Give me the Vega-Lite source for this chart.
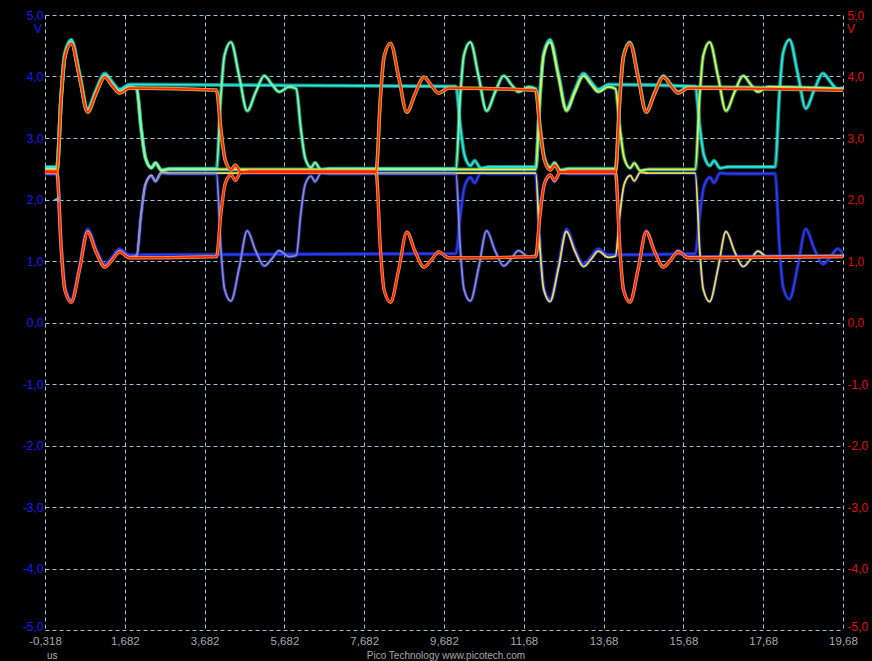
{
"$schema": "https://vega.github.io/schema/vega-lite/v6.json",
"width": 798,
"height": 615,
"autosize": {"type": "none"},
"padding": {"left": 45, "top": 15, "right": 29, "bottom": 31},
"background": "#000000",
"config": {
  "view": {"fill": "#000000", "stroke": null},
  "font": "Liberation Sans",
  "axis": {"domain": false, "ticks": false, "gridColor": "#a9cde0", "gridDash": [4, 3], "gridWidth": 1, "gridOpacity": 0.95, "labelFont": "Liberation Sans", "labelFontSize": 12}
},
"datasets": {
"w": [
{"s":"AH","x":-0.318,"y":2.46},{"s":"AH","x":-0.02,"y":2.46},{"s":"AH","x":0.09,"y":3.67},{"s":"AH","x":0.18,"y":4.32},{"s":"AH","x":0.34,"y":4.54},{"s":"AH","x":0.55,"y":3.98},{"s":"AH","x":0.75,"y":3.42},{"s":"AH","x":0.96,"y":3.72},{"s":"AH","x":1.18,"y":3.99},{"s":"AH","x":1.37,"y":3.85},{"s":"AH","x":1.55,"y":3.73},{"s":"AH","x":1.8,"y":3.81},
{"s":"AH","x":3.98,"y":3.78},{"s":"AH","x":4.09,"y":3.13},{"s":"AH","x":4.2,"y":2.64},{"s":"AH","x":4.35,"y":2.48},{"s":"AH","x":4.45,"y":2.56},{"s":"AH","x":4.6,"y":2.44},{"s":"AH","x":4.8,"y":2.46},
{"s":"AH","x":7.98,"y":2.46},{"s":"AH","x":8.09,"y":3.67},{"s":"AH","x":8.18,"y":4.32},{"s":"AH","x":8.34,"y":4.54},{"s":"AH","x":8.55,"y":3.98},{"s":"AH","x":8.75,"y":3.42},{"s":"AH","x":8.96,"y":3.72},{"s":"AH","x":9.18,"y":3.99},{"s":"AH","x":9.37,"y":3.85},{"s":"AH","x":9.55,"y":3.73},{"s":"AH","x":9.8,"y":3.81},
{"s":"AH","x":11.98,"y":3.78},{"s":"AH","x":12.09,"y":3.13},{"s":"AH","x":12.2,"y":2.64},{"s":"AH","x":12.35,"y":2.48},{"s":"AH","x":12.45,"y":2.56},{"s":"AH","x":12.6,"y":2.44},{"s":"AH","x":12.8,"y":2.46},
{"s":"AH","x":13.98,"y":2.46},{"s":"AH","x":14.09,"y":3.67},{"s":"AH","x":14.18,"y":4.32},{"s":"AH","x":14.34,"y":4.54},{"s":"AH","x":14.55,"y":3.98},{"s":"AH","x":14.75,"y":3.42},{"s":"AH","x":14.96,"y":3.72},{"s":"AH","x":15.18,"y":3.99},{"s":"AH","x":15.37,"y":3.85},{"s":"AH","x":15.55,"y":3.73},{"s":"AH","x":15.8,"y":3.81},
{"s":"AH","x":19.682,"y":3.78},

{"s":"AL","x":-0.318,"y":2.44},{"s":"AL","x":-0.02,"y":2.44},{"s":"AL","x":0.09,"y":1.18},{"s":"AL","x":0.18,"y":0.53},{"s":"AL","x":0.34,"y":0.33},{"s":"AL","x":0.55,"y":0.87},{"s":"AL","x":0.75,"y":1.47},{"s":"AL","x":0.96,"y":1.15},{"s":"AL","x":1.18,"y":0.90},{"s":"AL","x":1.37,"y":1.02},{"s":"AL","x":1.55,"y":1.15},{"s":"AL","x":1.8,"y":1.05},
{"s":"AL","x":3.98,"y":1.07},{"s":"AL","x":4.09,"y":1.77},{"s":"AL","x":4.2,"y":2.26},{"s":"AL","x":4.35,"y":2.40},{"s":"AL","x":4.45,"y":2.31},{"s":"AL","x":4.6,"y":2.45},{"s":"AL","x":4.8,"y":2.44},
{"s":"AL","x":7.98,"y":2.44},{"s":"AL","x":8.09,"y":1.18},{"s":"AL","x":8.18,"y":0.53},{"s":"AL","x":8.34,"y":0.33},{"s":"AL","x":8.55,"y":0.87},{"s":"AL","x":8.75,"y":1.47},{"s":"AL","x":8.96,"y":1.15},{"s":"AL","x":9.18,"y":0.90},{"s":"AL","x":9.37,"y":1.02},{"s":"AL","x":9.55,"y":1.15},{"s":"AL","x":9.8,"y":1.05},
{"s":"AL","x":11.98,"y":1.07},{"s":"AL","x":12.09,"y":1.77},{"s":"AL","x":12.2,"y":2.26},{"s":"AL","x":12.35,"y":2.40},{"s":"AL","x":12.45,"y":2.31},{"s":"AL","x":12.6,"y":2.45},{"s":"AL","x":12.8,"y":2.44},
{"s":"AL","x":13.98,"y":2.44},{"s":"AL","x":14.09,"y":1.18},{"s":"AL","x":14.18,"y":0.53},{"s":"AL","x":14.34,"y":0.33},{"s":"AL","x":14.55,"y":0.87},{"s":"AL","x":14.75,"y":1.47},{"s":"AL","x":14.96,"y":1.15},{"s":"AL","x":15.18,"y":0.90},{"s":"AL","x":15.37,"y":1.02},{"s":"AL","x":15.55,"y":1.15},{"s":"AL","x":15.8,"y":1.05},
{"s":"AL","x":19.682,"y":1.07},

{"s":"BH","x":-0.318,"y":2.50},{"s":"BH","x":-0.02,"y":2.50},{"s":"BH","x":0.09,"y":3.69},{"s":"BH","x":0.18,"y":4.34},{"s":"BH","x":0.34,"y":4.56},{"s":"BH","x":0.55,"y":4.00},{"s":"BH","x":0.75,"y":3.44},{"s":"BH","x":0.96,"y":3.74},{"s":"BH","x":1.18,"y":4.01},{"s":"BH","x":1.37,"y":3.87},{"s":"BH","x":1.55,"y":3.75},{"s":"BH","x":1.8,"y":3.83},
{"s":"BH","x":1.98,"y":3.80},{"s":"BH","x":2.09,"y":3.17},{"s":"BH","x":2.2,"y":2.68},{"s":"BH","x":2.35,"y":2.52},{"s":"BH","x":2.45,"y":2.60},{"s":"BH","x":2.6,"y":2.48},{"s":"BH","x":2.8,"y":2.50},
{"s":"BH","x":3.98,"y":2.50},{"s":"BH","x":4.09,"y":3.69},{"s":"BH","x":4.18,"y":4.34},{"s":"BH","x":4.34,"y":4.56},{"s":"BH","x":4.55,"y":4.00},{"s":"BH","x":4.75,"y":3.44},{"s":"BH","x":4.96,"y":3.74},{"s":"BH","x":5.18,"y":4.01},{"s":"BH","x":5.37,"y":3.87},{"s":"BH","x":5.55,"y":3.75},{"s":"BH","x":5.8,"y":3.83},
{"s":"BH","x":5.98,"y":3.80},{"s":"BH","x":6.09,"y":3.17},{"s":"BH","x":6.2,"y":2.68},{"s":"BH","x":6.35,"y":2.52},{"s":"BH","x":6.45,"y":2.60},{"s":"BH","x":6.6,"y":2.48},{"s":"BH","x":6.8,"y":2.50},
{"s":"BH","x":9.98,"y":2.50},{"s":"BH","x":10.09,"y":3.69},{"s":"BH","x":10.18,"y":4.34},{"s":"BH","x":10.34,"y":4.56},{"s":"BH","x":10.55,"y":4.00},{"s":"BH","x":10.75,"y":3.44},{"s":"BH","x":10.96,"y":3.74},{"s":"BH","x":11.18,"y":4.01},{"s":"BH","x":11.37,"y":3.87},{"s":"BH","x":11.55,"y":3.75},{"s":"BH","x":11.8,"y":3.83},
{"s":"BH","x":11.98,"y":3.80},{"s":"BH","x":12.09,"y":3.17},{"s":"BH","x":12.2,"y":2.68},{"s":"BH","x":12.35,"y":2.52},{"s":"BH","x":12.45,"y":2.60},{"s":"BH","x":12.6,"y":2.48},{"s":"BH","x":12.8,"y":2.50},
{"s":"BH","x":13.98,"y":2.50},{"s":"BH","x":14.09,"y":3.69},{"s":"BH","x":14.18,"y":4.34},{"s":"BH","x":14.34,"y":4.56},{"s":"BH","x":14.55,"y":4.00},{"s":"BH","x":14.75,"y":3.44},{"s":"BH","x":14.96,"y":3.74},{"s":"BH","x":15.18,"y":4.01},{"s":"BH","x":15.37,"y":3.87},{"s":"BH","x":15.55,"y":3.75},{"s":"BH","x":15.8,"y":3.83},
{"s":"BH","x":19.682,"y":3.80},

{"s":"BL","x":-0.318,"y":2.42},{"s":"BL","x":-0.02,"y":2.42},{"s":"BL","x":0.09,"y":1.20},{"s":"BL","x":0.18,"y":0.55},{"s":"BL","x":0.34,"y":0.35},{"s":"BL","x":0.55,"y":0.89},{"s":"BL","x":0.75,"y":1.49},{"s":"BL","x":0.96,"y":1.17},{"s":"BL","x":1.18,"y":0.92},{"s":"BL","x":1.37,"y":1.04},{"s":"BL","x":1.55,"y":1.17},{"s":"BL","x":1.8,"y":1.07},
{"s":"BL","x":1.98,"y":1.09},{"s":"BL","x":2.09,"y":1.75},{"s":"BL","x":2.2,"y":2.24},{"s":"BL","x":2.35,"y":2.38},{"s":"BL","x":2.45,"y":2.29},{"s":"BL","x":2.6,"y":2.43},{"s":"BL","x":2.8,"y":2.42},
{"s":"BL","x":3.98,"y":2.42},{"s":"BL","x":4.09,"y":1.20},{"s":"BL","x":4.18,"y":0.55},{"s":"BL","x":4.34,"y":0.35},{"s":"BL","x":4.55,"y":0.89},{"s":"BL","x":4.75,"y":1.49},{"s":"BL","x":4.96,"y":1.17},{"s":"BL","x":5.18,"y":0.92},{"s":"BL","x":5.37,"y":1.04},{"s":"BL","x":5.55,"y":1.17},{"s":"BL","x":5.8,"y":1.07},
{"s":"BL","x":5.98,"y":1.09},{"s":"BL","x":6.09,"y":1.75},{"s":"BL","x":6.2,"y":2.24},{"s":"BL","x":6.35,"y":2.38},{"s":"BL","x":6.45,"y":2.29},{"s":"BL","x":6.6,"y":2.43},{"s":"BL","x":6.8,"y":2.42},
{"s":"BL","x":9.98,"y":2.42},{"s":"BL","x":10.09,"y":1.20},{"s":"BL","x":10.18,"y":0.55},{"s":"BL","x":10.34,"y":0.35},{"s":"BL","x":10.55,"y":0.89},{"s":"BL","x":10.75,"y":1.49},{"s":"BL","x":10.96,"y":1.17},{"s":"BL","x":11.18,"y":0.92},{"s":"BL","x":11.37,"y":1.04},{"s":"BL","x":11.55,"y":1.17},{"s":"BL","x":11.8,"y":1.07},
{"s":"BL","x":11.98,"y":1.09},{"s":"BL","x":12.09,"y":1.75},{"s":"BL","x":12.2,"y":2.24},{"s":"BL","x":12.35,"y":2.38},{"s":"BL","x":12.45,"y":2.29},{"s":"BL","x":12.6,"y":2.43},{"s":"BL","x":12.8,"y":2.42},
{"s":"BL","x":13.98,"y":2.42},{"s":"BL","x":14.09,"y":1.20},{"s":"BL","x":14.18,"y":0.55},{"s":"BL","x":14.34,"y":0.35},{"s":"BL","x":14.55,"y":0.89},{"s":"BL","x":14.75,"y":1.49},{"s":"BL","x":14.96,"y":1.17},{"s":"BL","x":15.18,"y":0.92},{"s":"BL","x":15.37,"y":1.04},{"s":"BL","x":15.55,"y":1.17},{"s":"BL","x":15.8,"y":1.07},
{"s":"BL","x":19.682,"y":1.09},

{"s":"CH","x":-0.318,"y":2.53},{"s":"CH","x":-0.02,"y":2.53},{"s":"CH","x":0.09,"y":3.73},{"s":"CH","x":0.18,"y":4.38},{"s":"CH","x":0.34,"y":4.60},{"s":"CH","x":0.55,"y":4.04},{"s":"CH","x":0.75,"y":3.48},{"s":"CH","x":0.96,"y":3.78},{"s":"CH","x":1.18,"y":4.05},{"s":"CH","x":1.37,"y":3.91},{"s":"CH","x":1.55,"y":3.79},{"s":"CH","x":1.8,"y":3.87},
{"s":"CH","x":9.98,"y":3.84},{"s":"CH","x":10.09,"y":3.20},{"s":"CH","x":10.2,"y":2.71},{"s":"CH","x":10.35,"y":2.55},{"s":"CH","x":10.45,"y":2.63},{"s":"CH","x":10.6,"y":2.51},{"s":"CH","x":10.8,"y":2.53},
{"s":"CH","x":11.98,"y":2.53},{"s":"CH","x":12.09,"y":3.73},{"s":"CH","x":12.18,"y":4.38},{"s":"CH","x":12.34,"y":4.60},{"s":"CH","x":12.55,"y":4.04},{"s":"CH","x":12.75,"y":3.48},{"s":"CH","x":12.96,"y":3.78},{"s":"CH","x":13.18,"y":4.05},{"s":"CH","x":13.37,"y":3.91},{"s":"CH","x":13.55,"y":3.79},{"s":"CH","x":13.8,"y":3.87},
{"s":"CH","x":15.98,"y":3.84},{"s":"CH","x":16.09,"y":3.20},{"s":"CH","x":16.2,"y":2.71},{"s":"CH","x":16.35,"y":2.55},{"s":"CH","x":16.45,"y":2.63},{"s":"CH","x":16.6,"y":2.51},{"s":"CH","x":16.8,"y":2.53},
{"s":"CH","x":17.98,"y":2.53},{"s":"CH","x":18.09,"y":3.73},{"s":"CH","x":18.18,"y":4.38},{"s":"CH","x":18.34,"y":4.60},{"s":"CH","x":18.55,"y":4.04},{"s":"CH","x":18.75,"y":3.48},{"s":"CH","x":18.96,"y":3.78},{"s":"CH","x":19.18,"y":4.05},{"s":"CH","x":19.37,"y":3.91},{"s":"CH","x":19.55,"y":3.79},{"s":"CH","x":19.682,"y":3.82},

{"s":"CL","x":-0.318,"y":2.42},{"s":"CL","x":-0.02,"y":2.42},{"s":"CL","x":0.09,"y":1.23},{"s":"CL","x":0.18,"y":0.58},{"s":"CL","x":0.34,"y":0.38},{"s":"CL","x":0.55,"y":0.92},{"s":"CL","x":0.75,"y":1.52},{"s":"CL","x":0.96,"y":1.20},{"s":"CL","x":1.18,"y":0.95},{"s":"CL","x":1.37,"y":1.07},{"s":"CL","x":1.55,"y":1.20},{"s":"CL","x":1.8,"y":1.10},
{"s":"CL","x":9.98,"y":1.12},{"s":"CL","x":10.09,"y":1.73},{"s":"CL","x":10.2,"y":2.22},{"s":"CL","x":10.35,"y":2.36},{"s":"CL","x":10.45,"y":2.27},{"s":"CL","x":10.6,"y":2.43},{"s":"CL","x":10.8,"y":2.42},
{"s":"CL","x":11.98,"y":2.42},{"s":"CL","x":12.09,"y":1.23},{"s":"CL","x":12.18,"y":0.58},{"s":"CL","x":12.34,"y":0.38},{"s":"CL","x":12.55,"y":0.92},{"s":"CL","x":12.75,"y":1.52},{"s":"CL","x":12.96,"y":1.20},{"s":"CL","x":13.18,"y":0.95},{"s":"CL","x":13.37,"y":1.07},{"s":"CL","x":13.55,"y":1.20},{"s":"CL","x":13.8,"y":1.10},
{"s":"CL","x":15.98,"y":1.12},{"s":"CL","x":16.09,"y":1.73},{"s":"CL","x":16.2,"y":2.22},{"s":"CL","x":16.35,"y":2.36},{"s":"CL","x":16.45,"y":2.27},{"s":"CL","x":16.6,"y":2.43},{"s":"CL","x":16.8,"y":2.42},
{"s":"CL","x":17.98,"y":2.42},{"s":"CL","x":18.09,"y":1.23},{"s":"CL","x":18.18,"y":0.58},{"s":"CL","x":18.34,"y":0.38},{"s":"CL","x":18.55,"y":0.92},{"s":"CL","x":18.75,"y":1.52},{"s":"CL","x":18.96,"y":1.20},{"s":"CL","x":19.18,"y":0.95},{"s":"CL","x":19.37,"y":1.07},{"s":"CL","x":19.55,"y":1.20},{"s":"CL","x":19.682,"y":1.12},

{"s":"DH","x":-0.318,"y":2.49},{"s":"DH","x":-0.02,"y":2.49},{"s":"DH","x":0.09,"y":3.69},{"s":"DH","x":0.18,"y":4.34},{"s":"DH","x":0.34,"y":4.56},{"s":"DH","x":0.55,"y":4.00},{"s":"DH","x":0.75,"y":3.44},{"s":"DH","x":0.96,"y":3.74},{"s":"DH","x":1.18,"y":4.01},{"s":"DH","x":1.37,"y":3.87},{"s":"DH","x":1.55,"y":3.75},{"s":"DH","x":1.8,"y":3.83},
{"s":"DH","x":1.98,"y":3.80},{"s":"DH","x":2.09,"y":3.16},{"s":"DH","x":2.2,"y":2.67},{"s":"DH","x":2.35,"y":2.51},{"s":"DH","x":2.45,"y":2.59},{"s":"DH","x":2.6,"y":2.47},{"s":"DH","x":2.8,"y":2.49},
{"s":"DH","x":11.98,"y":2.49},{"s":"DH","x":12.09,"y":3.69},{"s":"DH","x":12.18,"y":4.34},{"s":"DH","x":12.34,"y":4.56},{"s":"DH","x":12.55,"y":4.00},{"s":"DH","x":12.75,"y":3.44},{"s":"DH","x":12.96,"y":3.74},{"s":"DH","x":13.18,"y":4.01},{"s":"DH","x":13.37,"y":3.87},{"s":"DH","x":13.55,"y":3.75},{"s":"DH","x":13.8,"y":3.83},
{"s":"DH","x":13.98,"y":3.80},{"s":"DH","x":14.09,"y":3.16},{"s":"DH","x":14.2,"y":2.67},{"s":"DH","x":14.35,"y":2.51},{"s":"DH","x":14.45,"y":2.59},{"s":"DH","x":14.6,"y":2.47},{"s":"DH","x":14.8,"y":2.49},
{"s":"DH","x":15.98,"y":2.49},{"s":"DH","x":16.09,"y":3.69},{"s":"DH","x":16.18,"y":4.34},{"s":"DH","x":16.34,"y":4.56},{"s":"DH","x":16.55,"y":4.00},{"s":"DH","x":16.75,"y":3.44},{"s":"DH","x":16.96,"y":3.74},{"s":"DH","x":17.18,"y":4.01},{"s":"DH","x":17.37,"y":3.87},{"s":"DH","x":17.55,"y":3.75},{"s":"DH","x":17.8,"y":3.83},
{"s":"DH","x":19.682,"y":3.80},

{"s":"DL","x":-0.318,"y":2.43},{"s":"DL","x":-0.02,"y":2.43},{"s":"DL","x":0.09,"y":1.19},{"s":"DL","x":0.18,"y":0.54},{"s":"DL","x":0.34,"y":0.34},{"s":"DL","x":0.55,"y":0.88},{"s":"DL","x":0.75,"y":1.48},{"s":"DL","x":0.96,"y":1.16},{"s":"DL","x":1.18,"y":0.91},{"s":"DL","x":1.37,"y":1.03},{"s":"DL","x":1.55,"y":1.16},{"s":"DL","x":1.8,"y":1.06},
{"s":"DL","x":1.98,"y":1.08},{"s":"DL","x":2.09,"y":1.76},{"s":"DL","x":2.2,"y":2.25},{"s":"DL","x":2.35,"y":2.39},{"s":"DL","x":2.45,"y":2.30},{"s":"DL","x":2.6,"y":2.44},{"s":"DL","x":2.8,"y":2.43},
{"s":"DL","x":11.98,"y":2.43},{"s":"DL","x":12.09,"y":1.19},{"s":"DL","x":12.18,"y":0.54},{"s":"DL","x":12.34,"y":0.34},{"s":"DL","x":12.55,"y":0.88},{"s":"DL","x":12.75,"y":1.48},{"s":"DL","x":12.96,"y":1.16},{"s":"DL","x":13.18,"y":0.91},{"s":"DL","x":13.37,"y":1.03},{"s":"DL","x":13.55,"y":1.16},{"s":"DL","x":13.8,"y":1.06},
{"s":"DL","x":13.98,"y":1.08},{"s":"DL","x":14.09,"y":1.76},{"s":"DL","x":14.2,"y":2.25},{"s":"DL","x":14.35,"y":2.39},{"s":"DL","x":14.45,"y":2.30},{"s":"DL","x":14.6,"y":2.44},{"s":"DL","x":14.8,"y":2.43},
{"s":"DL","x":15.98,"y":2.43},{"s":"DL","x":16.09,"y":1.19},{"s":"DL","x":16.18,"y":0.54},{"s":"DL","x":16.34,"y":0.34},{"s":"DL","x":16.55,"y":0.88},{"s":"DL","x":16.75,"y":1.48},{"s":"DL","x":16.96,"y":1.16},{"s":"DL","x":17.18,"y":0.91},{"s":"DL","x":17.37,"y":1.03},{"s":"DL","x":17.55,"y":1.16},{"s":"DL","x":17.8,"y":1.06},
{"s":"DL","x":19.682,"y":1.08}
]
},
"resolve": {"axis": {"y": "independent"}},
"layer": [
{
  "data": {"name": "w"},
  "transform": [{"filter": "substring(datum.s,1,2)=='L'"}],
  "mark": {"type": "line", "interpolate": "monotone", "strokeWidth": 3.6, "color": "#2b3cf0", "opacity": 0.6, "clip": true},
  "encoding": {
    "x": {"field": "x", "type": "quantitative", "title": null,
      "scale": {"domain": [-0.318, 19.682], "nice": false, "zero": false},
      "axis": {"orient": "bottom", "values": [-0.318, 1.682, 3.682, 5.682, 7.682, 9.682, 11.682, 13.682, 15.682, 17.682, 19.682],
        "labelExpr": "datum.value < 0 ? '-' + replace(format(-datum.value, '.3f'), '.', ',') : replace(slice(format(datum.value, '.3f'), 0, 5), '.', ',')",
        "labelColor": "#a4a8b0", "labelFontSize": 11.5, "labelPadding": 5, "labelFlush": false, "labelOverlap": false, "grid": true}},
    "y": {"field": "y", "type": "quantitative", "title": null,
      "scale": {"domain": [-5, 5], "nice": false, "zero": false},
      "axis": {"orient": "left", "values": [-5, -4, -3, -2, -1, 0, 1, 2, 3, 4, 5],
        "labelExpr": "datum.value < 0 ? '-' + replace(format(-datum.value, '.1f'), '.', ',') : replace(format(datum.value, '.1f'), '.', ',')",
        "labelBaseline": {"condition": {"test": "datum.value == -5", "value": "alphabetic"}, "value": "middle"},
        "labelColor": "#1a1aff", "labelFontSize": 12, "labelPadding": 2, "labelFlush": false, "labelOverlap": false, "grid": true}},
    "detail": {"field": "s"}
  }
},
{
  "data": {"name": "w"},
  "transform": [{"filter": "substring(datum.s,1,2)=='H'"}],
  "mark": {"type": "line", "interpolate": "monotone", "strokeWidth": 3.8, "color": "#20dcc8", "opacity": 0.65, "clip": true},
  "encoding": {
    "x": {"field": "x", "type": "quantitative", "title": null},
    "y": {"field": "y", "type": "quantitative", "title": null, "axis": null},
    "detail": {"field": "s"}
  }
},
{
  "data": {"name": "w"},
  "transform": [{"filter": "substring(datum.s,0,1)=='C'"}],
  "mark": {"type": "line", "interpolate": "monotone", "strokeWidth": 1.6, "clip": true},
  "encoding": {
    "x": {"field": "x", "type": "quantitative", "title": null},
    "y": {"field": "y", "type": "quantitative", "title": null, "axis": null},
    "color": {"field": "s", "type": "nominal", "legend": null, "scale": {"domain": ["AH","AL","BH","BL","CH","CL","DH","DL"], "range": ["#ff2410","#ff2410","#8ef59a","#8a8ac8","#2ee8e0","#2a3cff","#eef03a","#f0e040"]}}
  }
},
{
  "data": {"name": "w"},
  "transform": [{"filter": "substring(datum.s,0,1)=='D'"}],
  "mark": {"type": "line", "interpolate": "monotone", "strokeWidth": 1.8, "clip": true},
  "encoding": {
    "x": {"field": "x", "type": "quantitative", "title": null},
    "y": {"field": "y", "type": "quantitative", "title": null, "axis": null},
    "color": {"field": "s", "type": "nominal", "legend": null, "scale": {"domain": ["AH","AL","BH","BL","CH","CL","DH","DL"], "range": ["#ff2410","#ff2410","#8ef59a","#8a8ac8","#2ee8e0","#2a3cff","#eef03a","#f0e040"]}}
  }
},
{
  "data": {"name": "w"},
  "transform": [{"filter": "substring(datum.s,0,1)=='B'"}],
  "mark": {"type": "line", "interpolate": "monotone", "strokeWidth": 1.8, "clip": true},
  "encoding": {
    "x": {"field": "x", "type": "quantitative", "title": null},
    "y": {"field": "y", "type": "quantitative", "title": null, "axis": null},
    "color": {"field": "s", "type": "nominal", "legend": null, "scale": {"domain": ["AH","AL","BH","BL","CH","CL","DH","DL"], "range": ["#ff2410","#ff2410","#8ef59a","#8a8ac8","#2ee8e0","#2a3cff","#eef03a","#f0e040"]}}
  }
},
{
  "data": {"name": "w"},
  "transform": [{"filter": "substring(datum.s,0,1)=='A'"}],
  "mark": {"type": "line", "interpolate": "monotone", "strokeWidth": 3.2, "color": "#ffa020", "clip": true},
  "encoding": {
    "x": {"field": "x", "type": "quantitative", "title": null},
    "y": {"field": "y", "type": "quantitative", "title": null, "axis": null},
    "detail": {"field": "s"}
  }
},
{
  "data": {"name": "w"},
  "transform": [{"filter": "substring(datum.s,0,1)=='A'"}],
  "mark": {"type": "line", "interpolate": "monotone", "strokeWidth": 1.8, "clip": true},
  "encoding": {
    "x": {"field": "x", "type": "quantitative", "title": null},
    "y": {"field": "y", "type": "quantitative", "title": null, "axis": null},
    "color": {"field": "s", "type": "nominal", "legend": null, "scale": {"domain": ["AH","AL","BH","BL","CH","CL","DH","DL"], "range": ["#ff2410","#ff2410","#8ef59a","#8a8ac8","#2ee8e0","#2a3cff","#eef03a","#f0e040"]}}
  }
},
{
  "data": {"values": [{"x": -0.03, "y": 2.0}]},
  "mark": {"type": "point", "shape": "triangle-left", "filled": true, "size": 45, "color": "#9c9cb0", "opacity": 1},
  "encoding": {
    "x": {"field": "x", "type": "quantitative", "title": null},
    "y": {"field": "y", "type": "quantitative", "title": null, "axis": null}
  }
},
{
  "data": {"values": [{"x": -0.318, "y": 5, "label": "V"}]},
  "mark": {"type": "text", "align": "right", "baseline": "middle", "dx": -3, "dy": 14, "fontSize": 12, "color": "#1a1aff"},
  "encoding": {
    "x": {"field": "x", "type": "quantitative", "title": null},
    "y": {"field": "y", "type": "quantitative", "title": null, "axis": null},
    "text": {"field": "label"}
  }
},
{
  "data": {"values": [{"x": 19.682, "y": 5, "label": "V"}]},
  "mark": {"type": "text", "align": "left", "baseline": "middle", "dx": 4, "dy": 14, "fontSize": 12, "color": "#e01010"},
  "encoding": {
    "x": {"field": "x", "type": "quantitative", "title": null},
    "y": {"field": "y", "type": "quantitative", "title": null,
      "axis": {"orient": "right", "values": [-5, -4, -3, -2, -1, 0, 1, 2, 3, 4, 5],
        "labelExpr": "datum.value < 0 ? '-' + replace(format(-datum.value, '.1f'), '.', ',') : replace(format(datum.value, '.1f'), '.', ',')",
        "labelBaseline": {"condition": {"test": "datum.value == -5", "value": "alphabetic"}, "value": "middle"},
        "labelColor": "#e01010", "labelFontSize": 12, "labelPadding": 4, "labelFlush": false, "labelOverlap": false, "grid": false}},
    "text": {"field": "label"}
  }
},
{
  "data": {"values": [{"x": -0.318, "y": -5, "label": "us"}]},
  "mark": {"type": "text", "align": "left", "baseline": "bottom", "dx": 2, "dy": 31, "fontSize": 10, "color": "#a4a8b0"},
  "encoding": {
    "x": {"field": "x", "type": "quantitative", "title": null},
    "y": {"field": "y", "type": "quantitative", "title": null, "axis": null},
    "text": {"field": "label"}
  }
},
{
  "data": {"values": [{"x": 9.73, "y": -5, "label": "Pico Technology  www.picotech.com"}]},
  "mark": {"type": "text", "align": "center", "baseline": "bottom", "dy": 31, "fontSize": 10, "color": "#a4a8b0"},
  "encoding": {
    "x": {"field": "x", "type": "quantitative", "title": null},
    "y": {"field": "y", "type": "quantitative", "title": null, "axis": null},
    "text": {"field": "label"}
  }
}
]
}
